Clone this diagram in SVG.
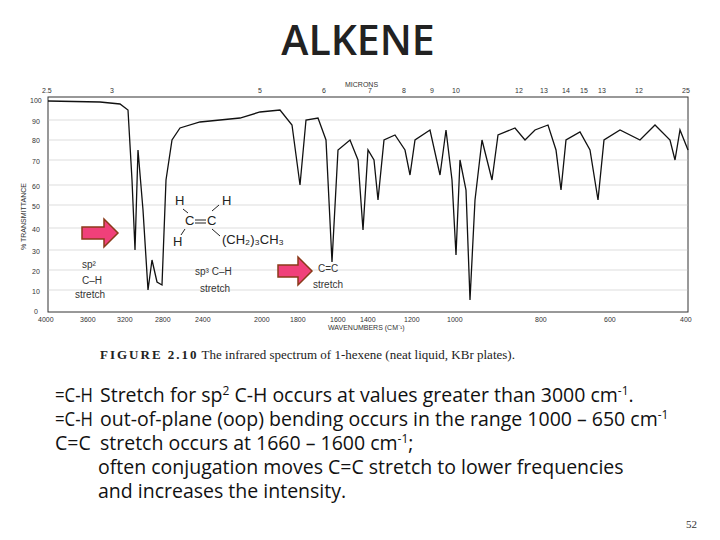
<svg xmlns="http://www.w3.org/2000/svg" width="720" height="540" viewBox="0 0 720 540">
<style>
.t{font-family:"Open Sans","Noto Sans",sans-serif;font-size:19.5px;fill:#111}
.s{font-family:"Liberation Sans",sans-serif;font-size:7px;fill:#333}
.m{font-family:"Liberation Sans",sans-serif;font-size:13px;fill:#222}
.g{stroke:#bbb;stroke-width:0.5}
</style>
<rect width="720" height="540" fill="#fff"/>
<text x="358" y="55" text-anchor="middle" font-family="'Open Sans','Noto Sans',sans-serif" font-weight="600" font-size="41" fill="#222">ALKENE</text>
<g id="spectrum">
<rect x="48" y="97" width="640" height="215" fill="none" stroke="#333" stroke-width="1"/>
<path class="g" d="M48 120H688M48 140H688M48 160H688M48 185H688M48 205H688M48 228H688M48 250H688M48 270H688M48 290H688"/>
<path fill="none" stroke="#111" stroke-width="1.3" d="M48 101 L100 102 L120 104 L128 110 L132 180 L135 250 L138 150 L143 210 L148 290 L152 260 L157 282 L162 285 L166 180 L172 140 L180 128 L200 122 L240 118 L260 112 L280 110 L292 125 L300 185 L306 120 L318 118 L326 140 L332 262 L338 150 L350 140 L358 160 L363 230 L368 150 L374 160 L378 200 L384 140 L395 135 L405 150 L410 175 L415 140 L430 130 L440 175 L446 130 L452 180 L456 255 L460 160 L466 190 L470 300 L475 200 L482 140 L492 180 L498 135 L515 128 L525 140 L535 130 L548 125 L556 150 L561 190 L566 140 L580 132 L590 150 L598 200 L604 140 L620 130 L640 140 L655 125 L670 140 L675 160 L680 130 L688 150"/>
<g class="s">
<text x="30" y="103">100</text><text x="32" y="124">90</text><text x="32" y="143">80</text><text x="32" y="164">70</text><text x="32" y="189">60</text><text x="32" y="209">50</text><text x="32" y="232">40</text><text x="32" y="254">30</text><text x="32" y="274">20</text><text x="32" y="294">10</text><text x="34" y="314">0</text>
<text x="38" y="322">4000</text><text x="80" y="322">3600</text><text x="117" y="322">3200</text><text x="155" y="322">2800</text><text x="195" y="322">2400</text><text x="254" y="322">2000</text><text x="290" y="322">1800</text><text x="330" y="322">1600</text><text x="360" y="322">1400</text><text x="404" y="322">1200</text><text x="447" y="322">1000</text><text x="535" y="322">800</text><text x="604" y="322">600</text><text x="680" y="322">400</text>
<text x="328" y="330">WAVENUMBERS (CM⁻¹)</text>
<text x="345" y="87">MICRONS</text>
<text x="42" y="93">2.5</text><text x="110" y="93">3</text><text x="258" y="93">5</text><text x="322" y="93">6</text><text x="368" y="93">7</text><text x="402" y="93">8</text><text x="430" y="93">9</text><text x="452" y="93">10</text><text x="515" y="93">12</text><text x="540" y="93">13</text><text x="562" y="93">14</text><text x="580" y="93">15</text><text x="598" y="93">13</text><text x="635" y="93">12</text><text x="682" y="93">25</text>
<text transform="translate(26 250) rotate(-90)">% TRANSMITTANCE</text>
</g>
<g class="m">
<text x="175" y="205">H</text><text x="222" y="205">H</text><text x="185" y="225">C</text><text x="207" y="225">C</text><text x="173" y="246">H</text><text x="222" y="244">(CH₂)₃CH₃</text>
</g>
<path d="M183 209L188 213M195 220H206M195 223H206M212 211L219 205M185 229L181 235M212 229L220 236" stroke="#222" fill="none"/>
<g font-family="'Liberation Sans',sans-serif" font-size="10" fill="#333">
<text x="82" y="268">sp²</text><text x="82" y="284">C–H</text><text x="75" y="298">stretch</text>
<text x="195" y="275">sp³ C–H</text><text x="200" y="292">stretch</text>
<text x="318" y="272">C=C</text><text x="313" y="288">stretch</text>
</g>
<path d="M82 227h22v-8l14 14-14 14v-8h-22z" fill="#f0407a" stroke="#8a3a1a" stroke-width="1.5"/>
<path d="M278 265h20v-8l14 14-14 14v-8h-20z" fill="#f0407a" stroke="#8a3a1a" stroke-width="1.5"/>
<text x="100" y="359" font-family="'Liberation Serif',serif" font-size="13" fill="#222"><tspan font-weight="bold" letter-spacing="2">FIGURE 2.10</tspan> The infrared spectrum of 1-hexene (neat liquid, KBr plates).</text>
</g>
<g class="t">
<text x="55" y="402" textLength="38" lengthAdjust="spacingAndGlyphs">=C-H</text><text x="100" y="402">Stretch for sp<tspan font-size="12" dy="-7">2</tspan><tspan dy="7"> C-H occurs at values greater than 3000 cm</tspan><tspan font-size="12" dy="-7">-1</tspan><tspan dy="7">.</tspan></text>
<text x="55" y="426" textLength="38" lengthAdjust="spacingAndGlyphs">=C-H</text><text x="100" y="426">out-of-plane (oop) bending occurs in the range 1000 – 650 cm<tspan font-size="12" dy="-7">-1</tspan></text>
<text x="55" y="450">C=C</text><text x="100" y="450">stretch occurs at 1660 – 1600 cm<tspan font-size="12" dy="-7">-1</tspan><tspan dy="7">;</tspan></text>
<text x="98" y="474">often conjugation moves C=C stretch to lower frequencies</text>
<text x="98" y="498">and increases the intensity.</text>
</g>
<text x="697" y="528" text-anchor="end" font-family="'Liberation Serif',serif" font-size="11" fill="#333">52</text>
</svg>
